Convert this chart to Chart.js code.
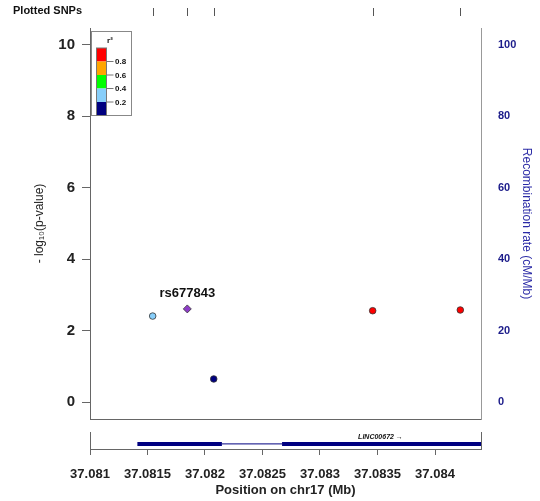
<!DOCTYPE html>
<html>
<head>
<meta charset="utf-8">
<script src="https://cdn.jsdelivr.net/npm/chart.js@4.4.1/dist/chart.umd.min.js"></script>
<style>
    html, body { margin: 0; padding: 0; background: #fff; }
    #wrap { position: relative; width: 540px; height: 501px; }
    canvas { position: absolute; left: 0; }
    #chart-assoc { top: 0; }
    #chart-genes { top: 430px; }
</style>
</head>
<body>
<div id="wrap">
    <canvas id="chart-assoc" width="540" height="430"></canvas>
    <canvas id="chart-genes" width="540" height="71"></canvas>
</div>
<script>
// SNPs in the region (position in Mb, -log10 p, r2 with the index SNP)
const snpPos = [37.081545, 37.081846, 37.082076, 37.083458, 37.08422];
const snpLogP = [2.41, 2.61, 0.65, 2.56, 2.58];
const snpR2 = [0.3, 1, 0.1, 0.9, 0.9];
const indexSnp = "rs677843";
const indexPos = 37.081846;

// axis ranges and tick labels
const xRange = [37.081, 37.0844];
const xTicks = [37.081, 37.0815, 37.082, 37.0825, 37.083, 37.0835, 37.084];
const xTickLabels = ["37.081", "37.0815", "37.082", "37.0825", "37.083", "37.0835", "37.084"];
const logPTicks = [0, 2, 4, 6, 8, 10];
const recombTicks = [0, 20, 40, 60, 80, 100];

// r2 colour key (low -> high)
const r2Breaks = [0.2, 0.4, 0.6, 0.8];
const r2Colors = ["#000080", "#87CEFA", "#00FF00", "#FFA500", "#FF0000"];

// gene track: LINC00672, exons + intron
const geneName = "LINC00672";
const geneStart = 37.081412;
const geneEnd = 37.08564;
const exonStarts = [37.081412, 37.08267];
const exonEnds = [37.082147, 37.08564];

const FONT = "'Liberation Sans', Arial, sans-serif";
const AXIS_GREY = "#666";

function r2Color(r2) {
    let i = 0;
    while (i < r2Breaks.length && r2 >= r2Breaks[i]) i++;
    return r2Colors[i];
}

const pointColors = snpPos.map((p, i) => (p === indexPos ? "#8e3cc8" : r2Color(snpR2[i])));
const pointShapes = snpPos.map((p) => (p === indexPos ? "rectRot" : "circle"));
const pointSizes = snpPos.map((p) => (p === indexPos ? 4 : 3.3));

// vertical axes: keep tick labels from pushing the plot area in
const noLabelPadding = (w) => (s) => {
    s.width = w;
    s.paddingTop = 0;
    s.paddingBottom = 0;
};

// rug of plotted SNPs, legend box and index label
const overlayPlugin = {
    id: "overlay",
    afterDraw(chart) {
        const ctx = chart.ctx;
        const xs = chart.scales.x;
        const ys = chart.scales.y;
        ctx.save();

        // "Plotted SNPs" rug
        ctx.fillStyle = "#111";
        ctx.font = `bold 11px ${FONT}`;
        ctx.textBaseline = "middle";
        ctx.textAlign = "left";
        ctx.fillText("Plotted SNPs", 13, 11);
        ctx.strokeStyle = "#555";
        ctx.lineWidth = 1;
        snpPos.forEach((p) => {
            const x = Math.round(xs.getPixelForValue(p)) + 0.5;
            ctx.beginPath();
            ctx.moveTo(x, 8);
            ctx.lineTo(x, 16);
            ctx.stroke();
        });

        // index SNP name
        ctx.font = `bold 13px ${FONT}`;
        ctx.textAlign = "center";
        ctx.fillStyle = "#111";
        const ii = snpPos.indexOf(indexPos);
        ctx.fillText(indexSnp, xs.getPixelForValue(indexPos), ys.getPixelForValue(snpLogP[ii]) - 15);

        // r2 legend
        ctx.fillStyle = "#fff";
        ctx.fillRect(91.5, 31.5, 40, 84);
        ctx.strokeStyle = "#888";
        ctx.strokeRect(91.5, 31.5, 40, 84);
        ctx.fillStyle = "#111";
        ctx.font = `bold 8px ${FONT}`;
        ctx.fillText("r²", 110, 41);
        const top = 48, cell = 13.5, bx = 96.5, bw = 10;
        for (let k = 0; k < r2Colors.length; k++) {
            ctx.fillStyle = r2Colors[r2Colors.length - 1 - k];
            ctx.fillRect(bx, top + k * cell, bw, cell);
        }
        ctx.strokeStyle = "#777";
        ctx.strokeRect(bx, top, bw, cell * r2Colors.length);
        ctx.textAlign = "left";
        ctx.fillStyle = "#111";
        r2Breaks.slice().reverse().forEach((b, k) => {
            const y = top + (k + 1) * cell;
            ctx.beginPath();
            ctx.moveTo(bx + bw, y);
            ctx.lineTo(bx + bw + 7, y);
            ctx.stroke();
            ctx.fillText(b.toFixed(1), 115, y + 0.5);
        });
        ctx.restore();
    },
};

new Chart(document.getElementById("chart-assoc"), {
    type: "scatter",
    data: {
        datasets: [
            {
                data: snpPos.map((p, i) => ({ x: p, y: snpLogP[i] })),
                backgroundColor: pointColors,
                borderColor: "#333",
                borderWidth: 0.8,
                pointStyle: pointShapes,
                pointRadius: pointSizes,
                yAxisID: "y",
            },
        ],
    },
    options: {
        responsive: false,
        animation: false,
        events: [],
        layout: { padding: { top: 28, left: 0, right: 0, bottom: 0 } },
        plugins: { legend: { display: false }, tooltip: { enabled: false } },
        scales: {
            x: {
                type: "linear",
                min: xRange[0],
                max: xRange[1],
                ticks: { display: false },
                grid: { display: false },
                border: { display: true, color: AXIS_GREY },
                afterFit: (s) => { s.height = 11; },
            },
            y: {
                position: "left",
                min: -0.47,
                max: 10.47,
                afterBuildTicks: (s) => { s.ticks = logPTicks.map((v) => ({ value: v })); },
                ticks: { color: "#222", font: { family: FONT, size: 15, weight: "bold" }, padding: 7 },
                grid: { drawOnChartArea: false, drawTicks: true, tickLength: 8, color: AXIS_GREY },
                border: { display: true, color: AXIS_GREY },
                title: {
                    display: true,
                    text: "- log₁₀(p-value)",
                    color: "#222",
                    font: { family: FONT, size: 12 },
                    padding: { top: 32 },
                },
                afterFit: noLabelPadding(90),
            },
            y2: {
                position: "right",
                min: -4.7,
                max: 104.7,
                afterBuildTicks: (s) => { s.ticks = recombTicks.map((v) => ({ value: v })); },
                ticks: { color: "#1c1c8a", font: { family: FONT, size: 11, weight: "bold" }, padding: 17 },
                grid: { drawOnChartArea: false, drawTicks: false },
                border: { display: true, color: "#999" },
                title: {
                    display: true,
                    text: "Recombination rate (cM/Mb)",
                    color: "#2b2ba6",
                    font: { family: FONT, size: 12 },
                    padding: { top: 6 },
                },
                afterFit: noLabelPadding(59),
            },
        },
    },
    plugins: [overlayPlugin],
});

// gene name over the transcript
const geneLabelPlugin = {
    id: "geneLabel",
    afterDatasetsDraw(chart) {
        const ctx = chart.ctx;
        const x = chart.scales.x.getPixelForValue((geneStart + geneEnd) / 2);
        ctx.save();
        ctx.font = `italic bold 7px ${FONT}`;
        ctx.fillStyle = "#111";
        ctx.textAlign = "center";
        ctx.textBaseline = "middle";
        ctx.fillText(geneName + " →", x, 7);
        ctx.restore();
    },
};

const geneY = 0.3;
new Chart(document.getElementById("chart-genes"), {
    type: "line",
    data: {
        datasets: [
            {
                data: [{ x: exonEnds[0], y: geneY }, { x: exonStarts[1], y: geneY }],
                borderColor: "#000080",
                borderWidth: 1,
                pointRadius: 0,
            },
            ...exonStarts.map((s, i) => ({
                data: [{ x: s, y: geneY }, { x: exonEnds[i], y: geneY }],
                borderColor: "#000080",
                borderWidth: 4,
                borderCapStyle: "butt",
                pointRadius: 0,
            })),
        ],
    },
    options: {
        responsive: false,
        animation: false,
        events: [],
        layout: { padding: { top: 2, left: 0, right: 0, bottom: 0 } },
        plugins: { legend: { display: false }, tooltip: { enabled: false } },
        scales: {
            x: {
                type: "linear",
                min: xRange[0],
                max: xRange[1],
                afterBuildTicks: (s) => { s.ticks = xTicks.map((v) => ({ value: v })); },
                ticks: {
                    color: "#222",
                    font: { family: FONT, size: 13, weight: "bold" },
                    padding: 12,
                    maxRotation: 0,
                    autoSkip: false,
                    callback: (v, i) => xTickLabels[i],
                },
                grid: { drawOnChartArea: false, drawTicks: true, tickLength: 6, color: AXIS_GREY },
                border: { display: true, color: AXIS_GREY },
                title: {
                    display: true,
                    text: "Position on chr17 (Mb)",
                    color: "#222",
                    font: { family: FONT, size: 13, weight: "bold" },
                    padding: { bottom: 3 },
                },
                afterFit: (s) => { s.height = 52; },
            },
            y: {
                position: "left",
                min: 0,
                max: 1,
                ticks: { display: false },
                grid: { display: false },
                border: { display: true, color: AXIS_GREY },
                afterFit: (s) => { s.width = 90; },
            },
            y2: {
                position: "right",
                min: 0,
                max: 1,
                ticks: { display: false },
                grid: { display: false },
                border: { display: true, color: AXIS_GREY },
                afterFit: (s) => { s.width = 59; },
            },
        },
    },
    plugins: [geneLabelPlugin],
});
</script>
</body>
</html>
